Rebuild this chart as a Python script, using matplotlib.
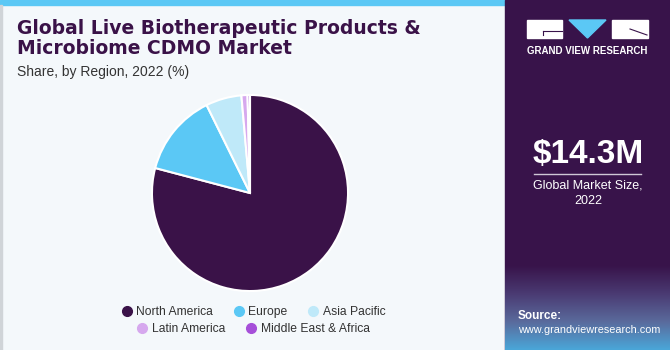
import matplotlib
matplotlib.use("Agg")
import matplotlib.pyplot as plt
from matplotlib.patches import Rectangle, Polygon
from matplotlib.lines import Line2D
from matplotlib.colors import LinearSegmentedColormap
import numpy as np

regions = ["North America", "Europe", "Asia Pacific", "Latin America", "Middle East & Africa"]
shares = [79.1, 13.6, 5.9, 1.0, 0.4]
colors = ["#3a1248", "#5bc8f5", "#bfe9f9", "#d6a8ee", "#a64fd9"]
title_lines = ["Global Live Biotherapeutic Products &", "Microbiome CDMO Market"]
subtitle = "Share, by Region, 2022 (%)"
market_size = "$14.3M"
market_label = ["Global Market Size,", "2022"]

plt.rcParams["font.family"] = ["Liberation Sans", "DejaVu Sans"]

W, H = 670, 350
fig = plt.figure(figsize=(W / 100, H / 100), dpi=100)
fig.patch.set_facecolor("#f4f8fb")

bg = fig.add_axes([0, 0, 1, 1])
bg.axis("off")

# left panel top strip and border
bg.add_patch(Rectangle((0, 0), 505, 5, color="#5bc8f5", zorder=1))
bg.add_patch(Rectangle((0, 5), 1.5, H - 5, color="#d0d4d8", zorder=1))

# right panel
bg.add_patch(Rectangle((505, 0), W - 505, H, color="#38134a", zorder=1))
grad = np.linspace(0, 1, 100).reshape(-1, 1)
cmap = LinearSegmentedColormap.from_list("g", ["#38134a", "#4a3a72", "#5a6a9c", "#4aa6d8"])
bg.imshow(grad, extent=(505, W, H, 265), aspect="auto", cmap=cmap, zorder=2)
bg.set_xlim(0, W)
bg.set_ylim(H, 0)

# logo
bg.add_patch(Rectangle((527, 20), 35, 18, color="white", zorder=3))
bg.add_patch(Rectangle((612, 20), 36, 18, color="white", zorder=3))
bg.add_patch(Polygon([(569, 20), (606, 20), (587.5, 38)], closed=True, color="#5bc8f5", zorder=3))
bg.plot([543, 562], [31, 31], color="#38134a", lw=0.8, zorder=4)
bg.plot([543, 543], [31, 35], color="#38134a", lw=0.8, zorder=4)
bg.plot([630, 647], [29, 35], color="#38134a", lw=0.8, zorder=4)
bg.text(587.5, 51, "GRAND VIEW RESEARCH", color="white", fontsize=7, fontweight="bold",
        ha="center", va="center", zorder=4)

bg.text(588, 155, market_size, color="white", fontsize=24, fontweight="bold",
        ha="center", va="center", zorder=4)
bg.plot([534, 641], [174, 174], color="#cfc7d6", lw=1, zorder=4)
bg.text(588, 186, market_label[0], color="white", fontsize=9, ha="center", va="center", zorder=4)
bg.text(588, 201, market_label[1], color="white", fontsize=9, ha="center", va="center", zorder=4)
bg.text(518, 316, "Source:", color="white", fontsize=8.5, fontweight="bold", ha="left", va="center", zorder=4)
bg.text(518, 330, "www.grandviewresearch.com", color="white", fontsize=7.8, ha="left", va="center", zorder=4)

# title
bg.text(17, 28, title_lines[0], color="#3a1248", fontsize=13.5, fontweight="heavy",
        ha="left", va="center", zorder=4, family="DejaVu Sans")
bg.text(17, 48, title_lines[1], color="#3a1248", fontsize=13.5, fontweight="heavy",
        ha="left", va="center", zorder=4, family="DejaVu Sans")
bg.text(17, 72, subtitle, color="#333333", fontsize=10, ha="left", va="center", zorder=4)

# pie
cx, cy, r = 250, 193, 100
ax = fig.add_axes([(cx - r) / W, 1 - (cy + r) / H, 2 * r / W, 2 * r / H])
ax.pie(shares, colors=colors, startangle=90, counterclock=False, radius=1.0,
       wedgeprops=dict(edgecolor="white", linewidth=1.5))
ax.set_xlim(-1.02, 1.02)
ax.set_ylim(-1.02, 1.02)
ax.set_aspect("equal")
ax.axis("off")

# legend
def handles(idx):
    return [Line2D([0], [0], marker="o", color="none", markerfacecolor=colors[i],
                   markeredgecolor=colors[i], markersize=7) for i in idx]

for idx, ypix, nc in [(range(0, 3), 312, 3), (range(3, 5), 329, 2)]:
    leg = fig.legend(handles(idx), [regions[i] for i in idx], loc="center", ncol=nc,
                     bbox_to_anchor=(253 / W, 1 - ypix / H), frameon=False, fontsize=8.7,
                     handletextpad=0.3, columnspacing=1.6, handlelength=1.0)
    for t in leg.get_texts():
        t.set_color("#333333")

fig.savefig("out.png", dpi=100, facecolor=fig.get_facecolor())
